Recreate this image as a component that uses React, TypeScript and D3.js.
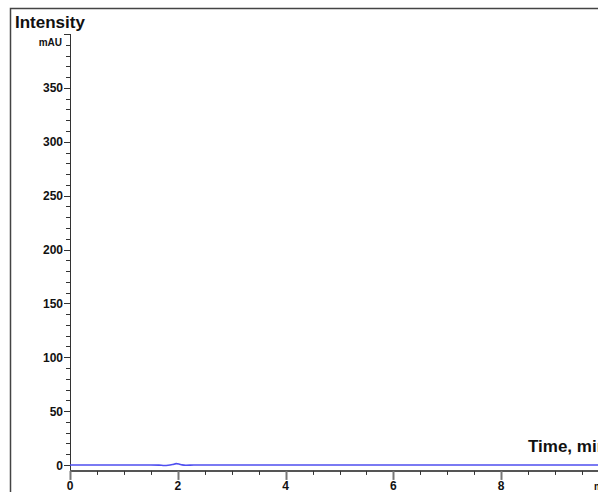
import { useRef, useEffect } from 'react';
import * as d3 from 'd3';

// chromatogram trace (time in min, intensity in mAU)
const times = [0, 0.5, 1.0, 1.5, 1.65, 1.75, 1.82, 1.9, 1.97, 2.02, 2.08, 2.15, 2.3, 2.6, 3.0, 4.0, 5.0, 6.0, 7.0, 8.0, 9.0, 9.6, 10.0];
const intensity = [0, 0, 0, 0, -0.1, -0.5, -0.3, 0.4, 1.3, 1.0, 0.1, -0.2, 0, 0, 0, 0, 0, 0, 0, 0, 0, 0, 0];
const xMajorTicks = [0, 2, 4, 6, 8];
const yMajorTicks = [0, 50, 100, 150, 200, 250, 300, 350];

const FONT = '"Liberation Sans Narrow", "Liberation Sans", Arial, sans-serif';

export default function App() {
  const svgRef = useRef<SVGSVGElement>(null);

  useEffect(() => {
    if (!svgRef.current) return;
    const svg = d3.select(svgRef.current);
    svg.selectAll('*').remove();

    const width = 598;
    const height = 492;

    const x = d3.scaleLinear().domain([0, 10]).range([70, 609]);
    const y = d3.scaleLinear().domain([0, 400]).range([465, 34]);
    const axisY = y(-5.5);

    // frame
    svg.append('path')
      .attr('d', `M10.5,${height} V8.5 H${width}`)
      .attr('fill', 'none')
      .attr('stroke', '#444')
      .attr('stroke-width', 1.5);

    // y axis
    svg.append('line')
      .attr('x1', 70.5).attr('x2', 70.5)
      .attr('y1', y(400)).attr('y2', axisY)
      .attr('stroke', '#333').attr('stroke-width', 1);
    d3.range(0, 401, 10).forEach((v) => {
      const major = v % 50 === 0;
      svg.append('line')
        .attr('x1', 70.5).attr('x2', major ? 64 : 66)
        .attr('y1', Math.round(y(v)) + 0.5).attr('y2', Math.round(y(v)) + 0.5)
        .attr('stroke', '#333');
    });
    yMajorTicks.forEach((v) => {
      svg.append('text')
        .attr('x', 63).attr('y', y(v) + 4.5)
        .attr('text-anchor', 'end')
        .attr('font-family', FONT).attr('font-weight', 'bold')
        .attr('font-size', 12).attr('fill', '#111')
        .text(String(v));
    });
    svg.append('text')
      .attr('x', 62).attr('y', 46)
      .attr('text-anchor', 'end')
      .attr('font-family', FONT).attr('font-weight', 'bold')
      .attr('font-size', 10).attr('fill', '#111')
      .text('mAU');
    svg.append('text')
      .attr('x', 15).attr('y', 28)
      .attr('font-family', FONT).attr('font-weight', 'bold')
      .attr('font-size', 17).attr('fill', '#111')
      .text('Intensity');

    // x axis
    svg.append('line')
      .attr('x1', 70).attr('x2', width)
      .attr('y1', axisY).attr('y2', axisY)
      .attr('stroke', '#555').attr('stroke-width', 2);
    d3.range(0, 10.01, 0.5).forEach((v) => {
      const major = Math.abs(v % 2) < 1e-6;
      svg.append('line')
        .attr('x1', Math.round(x(v)) + 0.5).attr('x2', Math.round(x(v)) + 0.5)
        .attr('y1', axisY).attr('y2', axisY + (major ? 9 : 4))
        .attr('stroke', major ? '#777' : '#333')
        .attr('stroke-width', major ? 2 : 1);
    });
    xMajorTicks.forEach((v) => {
      svg.append('text')
        .attr('x', x(v)).attr('y', 490)
        .attr('text-anchor', 'middle')
        .attr('font-family', FONT).attr('font-weight', 'bold')
        .attr('font-size', 12).attr('fill', '#111')
        .text(String(v));
    });
    svg.append('text')
      .attr('x', 594).attr('y', 490)
      .attr('font-family', FONT).attr('font-weight', 'bold')
      .attr('font-size', 10).attr('fill', '#111')
      .text('min');
    svg.append('text')
      .attr('x', 528).attr('y', 452)
      .attr('font-family', FONT).attr('font-weight', 'bold')
      .attr('font-size', 17).attr('fill', '#111')
      .text('Time, min');

    // trace
    const pts = times.map((t, i) => [t, intensity[i]] as [number, number]);
    const line = d3.line<[number, number]>()
      .x((d) => x(d[0]))
      .y((d) => y(d[1]))
      .curve(d3.curveMonotoneX);
    svg.append('path')
      .datum(pts)
      .attr('d', line)
      .attr('fill', 'none')
      .attr('stroke', '#4f4ff0')
      .attr('stroke-width', 1.6);
  }, []);

  return (
    <div style={{ position: 'absolute', left: 0, top: 0 }}>
      <svg ref={svgRef} width={598} height={492} style={{ display: 'block', background: '#fff' }} />
    </div>
  );
}
